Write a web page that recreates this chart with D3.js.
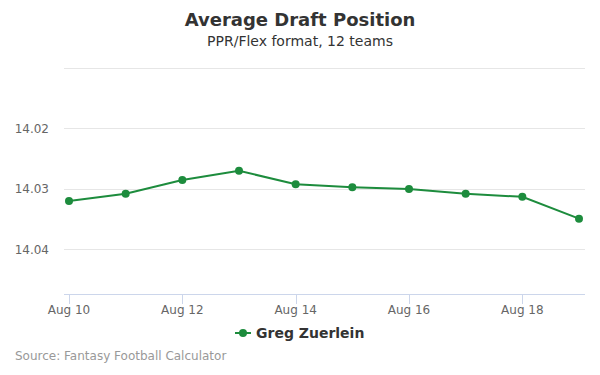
<!DOCTYPE html>
<html><head><meta charset="utf-8">
<script src="https://cdn.jsdelivr.net/npm/d3@7"></script>
<style>body{margin:0;background:#fff}svg{font-family:"DejaVu Sans",sans-serif}</style>
</head><body><svg id="c" width="600" height="375"></svg>
<script>
const dates = ["2019-08-10","2019-08-11","2019-08-12","2019-08-13","2019-08-14","2019-08-15","2019-08-16","2019-08-17","2019-08-18","2019-08-19"];
const adp = [14.0320, 14.0308, 14.0285, 14.0270, 14.0292, 14.0297, 14.0300, 14.0308, 14.0313, 14.0349];
const yTicks = [14.01, 14.02, 14.03, 14.04];
const yTickLabels = ["", "14.02", "14.03", "14.04"];
const xTickDates = ["2019-08-10","2019-08-12","2019-08-14","2019-08-16","2019-08-18"];
const seriesName = "Greg Zuerlein";
const color = "#1d8c3d";

const svg = d3.select("#c");
const parse = d3.timeParse("%Y-%m-%d");
const pts = dates.map((d,i)=>({date:parse(d), v:adp[i]}));
const plotL = 64, plotR = 585, plotT = 68, plotB = 294;

const x = d3.scaleTime().domain([parse(dates[0]), parse(dates[dates.length-1])]).range([69, 579]);
const y = d3.scaleLinear().domain([14.01, 14.02]).range([plotT, 128.5]);

svg.append("text").attr("x",300).attr("y",26).attr("text-anchor","middle")
  .attr("font-size",18).attr("font-weight","bold").attr("fill","#333").text("Average Draft Position");
svg.append("text").attr("x",300).attr("y",46).attr("text-anchor","middle")
  .attr("font-size",14).attr("fill","#333").text("PPR/Flex format, 12 teams");

// grid
svg.append("g").selectAll("line").data(yTicks).join("line")
  .attr("x1",plotL).attr("x2",plotR).attr("y1",d=>Math.floor(y(d))+0.5).attr("y2",d=>Math.floor(y(d))+0.5)
  .attr("stroke","#e6e6e6").attr("stroke-width",1);
svg.append("g").selectAll("text").data(yTicks).join("text")
  .attr("x",49).attr("y",d=>y(d)+4).attr("text-anchor","end").attr("font-size",12).attr("fill","#666")
  .text((d,i)=>yTickLabels[i]);

// x axis
svg.append("line").attr("x1",plotL).attr("x2",plotR).attr("y1",plotB+0.5).attr("y2",plotB+0.5).attr("stroke","#ccd6eb");
const xt = xTickDates.map(parse);
svg.append("g").selectAll("line").data(xt).join("line")
  .attr("x1",d=>Math.round(x(d))+0.5).attr("x2",d=>Math.round(x(d))+0.5).attr("y1",plotB).attr("y2",plotB+10).attr("stroke","#ccd6eb");
svg.append("g").selectAll("text").data(xt).join("text")
  .attr("x",d=>x(d)).attr("y",314).attr("text-anchor","middle").attr("font-size",12).attr("fill","#666")
  .text(d=>d3.timeFormat("%b %-d")(d));

// line
svg.append("path").datum(pts).attr("fill","none").attr("stroke",color).attr("stroke-width",2)
  .attr("d", d3.line().x(d=>x(d.date)).y(d=>y(d.v)));
svg.append("g").selectAll("circle").data(pts).join("circle")
  .attr("cx",d=>x(d.date)).attr("cy",d=>y(d.v)).attr("r",4).attr("fill",color);

// legend
svg.append("line").attr("x1",235).attr("x2",251).attr("y1",333).attr("y2",333).attr("stroke",color).attr("stroke-width",2);
svg.append("circle").attr("cx",243).attr("cy",333).attr("r",4).attr("fill",color);
svg.append("text").attr("x",256).attr("y",338).attr("font-size",14).attr("font-weight","bold").attr("fill","#333").text(seriesName);

svg.append("text").attr("x",15).attr("y",360).attr("font-size",12).attr("fill","#999").text("Source: Fantasy Football Calculator");
</script></body></html>
